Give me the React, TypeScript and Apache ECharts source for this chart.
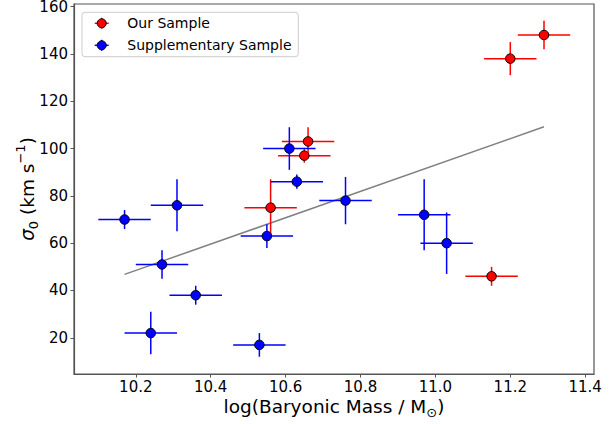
import React, { useEffect, useRef } from "react";
import * as echarts from "echarts";

// Our Sample (red)
const ourX = [11.29, 11.2, 11.15, 10.56, 10.66, 10.65];
const ourY = [148, 138, 46, 75, 103, 97];
const ourXErr = [0.07, 0.07, 0.07, 0.07, 0.07, 0.07];
const ourYErr = [6, 7, 4, 12, 6, 3];

// Supplementary Sample (blue)
const supX = [10.17, 10.31, 10.27, 10.36, 10.24, 10.53, 10.55, 10.63, 10.61, 10.76, 10.97, 11.03];
const supY = [70, 76, 51, 38, 22, 17, 63, 86, 100, 78, 72, 60];
const supXErr = [0.07, 0.07, 0.07, 0.07, 0.07, 0.07, 0.07, 0.07, 0.07, 0.07, 0.07, 0.07];
const supYErr = [4, 11, 6, 4, 9, 5, 5, 3, 9, 10, 15, 13];

// Fit line endpoints
const fitX = [10.17, 11.29];
const fitY = [46.8, 109.2];

const xTicks = [10.2, 10.4, 10.6, 10.8, 11.0, 11.2, 11.4];
const yTicks = [20, 40, 60, 80, 100, 120, 140, 160];

const seriesNames = ["Our Sample", "Supplementary Sample"];
const FONT = "DejaVu Sans";

function build(xs: number[], ys: number[], xe: number[], ye: number[]) {
  return xs.map((x, i) => [x, ys[i], xe[i], ye[i]]);
}

function errRender(color: string) {
  return (params: any, api: any) => {
    const x = api.value(0);
    const y = api.value(1);
    const xe = api.value(2);
    const ye = api.value(3);
    const l = api.coord([x - xe, y]);
    const r = api.coord([x + xe, y]);
    const t = api.coord([x, y + ye]);
    const b = api.coord([x, y - ye]);
    const style = { stroke: color, lineWidth: 1.5 };
    return {
      type: "group",
      children: [
        { type: "line", shape: { x1: l[0], y1: l[1], x2: r[0], y2: r[1] }, style },
        { type: "line", shape: { x1: t[0], y1: t[1], x2: b[0], y2: b[1] }, style },
      ],
    };
  };
}

export default function App() {
  const ref = useRef<HTMLDivElement>(null);
  useEffect(() => {
    document.body.style.margin = "0";
    const chart = echarts.init(ref.current!, null, { renderer: "svg" });
    const ourData = build(ourX, ourY, ourXErr, ourYErr);
    const supData = build(supX, supY, supXErr, supYErr);
    const axisColor = "#555";
    const legendItem = (cy: number, color: string, label: string) => [
      { type: "line", shape: { x1: 94.7, y1: cy, x2: 108.7, y2: cy }, style: { stroke: color, lineWidth: 1.5 } },
      { type: "line", shape: { x1: 101.7, y1: cy - 5.5, x2: 101.7, y2: cy + 5.5 }, style: { stroke: color, lineWidth: 1.5 } },
      { type: "circle", shape: { cx: 101.7, cy, r: 4.5 }, style: { fill: color, stroke: "#000", lineWidth: 1 } },
      {
        type: "text",
        x: 127.3,
        y: cy,
        style: { text: label, fontFamily: FONT, fontSize: 14, fill: "#000", align: "left", verticalAlign: "middle" },
      },
    ];
    chart.setOption({
      animation: false,
      grid: {
        left: 74,
        right: 22,
        top: 4,
        bottom: 50,
        containLabel: false,
        outerBoundsMode: "none",
        show: true,
        borderColor: axisColor,
        borderWidth: 1.2,
        backgroundColor: "transparent",
      },
      xAxis: {
        type: "value",
        min: 10.035,
        max: 11.4235,
        axisLine: { show: true, lineStyle: { color: axisColor, width: 1.2 } },
        axisTick: { show: true, inside: false, length: 3.5, customValues: xTicks, lineStyle: { color: axisColor, width: 1 } },
        axisLabel: {
          customValues: xTicks,
          formatter: (v: number) => v.toFixed(1),
          fontFamily: FONT,
          fontSize: 15,
          color: "#000",
          margin: 5,
        },
        splitLine: { show: false },
      },
      yAxis: {
        type: "value",
        min: 4.7,
        max: 161.1,
        axisLine: { show: true, lineStyle: { color: axisColor, width: 1.2 } },
        axisTick: { show: true, inside: false, length: 3.5, customValues: yTicks, lineStyle: { color: axisColor, width: 1 } },
        axisLabel: {
          customValues: yTicks,
          formatter: (v: number) => String(v),
          fontFamily: FONT,
          fontSize: 15,
          lineHeight: 12,
          color: "#000",
          margin: 6,
        },
        splitLine: { show: false },
      },
      series: [
        {
          type: "line",
          name: "fit",
          data: fitX.map((x, i) => [x, fitY[i]]),
          showSymbol: false,
          symbol: "none",
          lineStyle: { color: "#808080", width: 1.5 },
          z: 2,
        },
        {
          type: "custom",
          name: seriesNames[0] + " err",
          data: ourData,
          encode: { x: 0, y: 1 },
          renderItem: errRender("#ff0000"),
          z: 3,
        },
        {
          type: "scatter",
          name: seriesNames[0],
          data: ourData.map((d) => [d[0], d[1]]),
          symbol: "circle",
          symbolSize: 9.5,
          itemStyle: { color: "#ff0000", borderColor: "#000", borderWidth: 1, opacity: 1 },
          z: 4,
        },
        {
          type: "custom",
          name: seriesNames[1] + " err",
          data: supData,
          encode: { x: 0, y: 1 },
          renderItem: errRender("#0000ff"),
          z: 3,
        },
        {
          type: "scatter",
          name: seriesNames[1],
          data: supData.map((d) => [d[0], d[1]]),
          symbol: "circle",
          symbolSize: 9.5,
          itemStyle: { color: "#0000ff", borderColor: "#000", borderWidth: 1, opacity: 1 },
          z: 4,
        },
      ],
      graphic: [
        {
          type: "rect",
          shape: { x: 82, y: 12.3, width: 216.3, height: 44.4, r: 3 },
          style: { fill: "rgba(255,255,255,0.8)", stroke: "#cccccc", lineWidth: 1 },
          z: 10,
        },
        ...legendItem(23.3, "#ff0000", seriesNames[0]).map((e) => ({ ...e, z: 11 })),
        ...legendItem(45.3, "#0000ff", seriesNames[1]).map((e) => ({ ...e, z: 11 })),
        {
          type: "text",
          x: 334,
          y: 406,
          z: 11,
          style: {
            text: "{m|log(Baryonic Mass / M}{s|⊙}{m|)}",
            align: "center",
            verticalAlign: "middle",
            rich: {
              m: { fontFamily: FONT, fontSize: 18.5, fill: "#000", lineHeight: 26, verticalAlign: "middle" },
              s: { fontFamily: FONT, fontSize: 13, fill: "#000", lineHeight: 13, verticalAlign: "bottom" },
            },
          },
        },
        {
          type: "text",
          x: 27,
          y: 189,
          rotation: Math.PI / 2,
          z: 11,
          style: {
            text: "{g|σ}{s|0}{m| (km s}{p|−1}{m|)}",
            align: "center",
            verticalAlign: "middle",
            rich: {
              g: { fontFamily: FONT, fontStyle: "italic", fontSize: 18.5, fill: "#000", lineHeight: 26, verticalAlign: "middle" },
              m: { fontFamily: FONT, fontSize: 18.5, fill: "#000", lineHeight: 26, verticalAlign: "middle" },
              s: { fontFamily: FONT, fontSize: 13, fill: "#000", lineHeight: 13, verticalAlign: "bottom" },
              p: { fontFamily: FONT, fontSize: 13, fill: "#000", lineHeight: 13, verticalAlign: "top" },
            },
          },
        },
      ],
    });
    return () => chart.dispose();
  }, []);
  return <div ref={ref} style={{ width: 616, height: 424 }} />;
}
